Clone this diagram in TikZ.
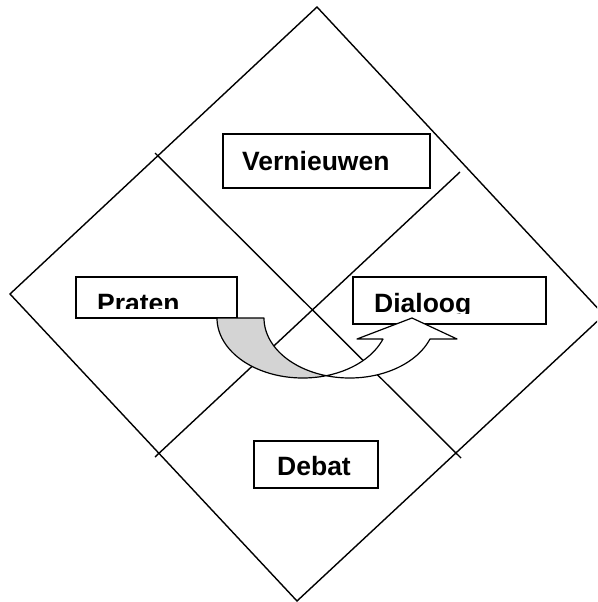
\documentclass[tikz,border=0pt]{standalone}
\usepackage{fontspec}
\setmainfont{Liberation Sans}
\definecolor{backgray}{RGB}{212,212,212}
\begin{document}
\begin{tikzpicture}[x=1pt,y=-1pt,
  edge/.style={line width=1.4pt},
  box/.style={draw, line width=1.2pt, fill=white, rectangle, inner sep=0pt},
  lbl/.style={inner sep=0pt, anchor=base west, font=\fontsize{26.5}{31}\selectfont\bfseries},
  ribbon/.style={draw, line width=1.2pt, line join=round}]
\useasboundingbox (0,0) rectangle (597,602);
\clip (0,0) rectangle (597,602);
% diamond
\coordinate (T) at (317,7);
\coordinate (R) at (604,315);
\coordinate (B) at (297,601);
\coordinate (L) at (10,294);
\draw[edge, line join=miter] (T) -- (R) -- (B) -- (L) -- cycle;
% dividing lines
\coordinate (p1) at (155,153);
\coordinate (p2) at (461,458);
\coordinate (q1) at (460,172);
\coordinate (q2) at (155,457);
\draw[edge] (p1) -- (p2);
\draw[edge] (q1) -- (q2);
% boxes
\node[box, minimum width=207pt, minimum height=54pt] (vbox) at (326.5,161) {};
\node[box, minimum width=161pt, minimum height=41pt] (pbox) at (156.5,297.5) {};
\node[box, minimum width=193pt, minimum height=47pt] (dbox) at (449.5,300.5) {};
\node[box, minimum width=124pt, minimum height=47pt] (bbox) at (316,464.5) {};
% texts
\node[lbl] (vtext) at (242,170.5) {Vernieuwen};
\node[lbl] (btext) at (277,475.5) {Debat};
\begin{scope}
  \clip (77,278) rectangle (236,308);
  \node[lbl] (ptext) at (97,312) {Praten};
\end{scope}
\begin{scope}
  \clip (354,278) rectangle (545,313);
  \node[lbl] (dtext) at (374,312) {Dialoog};
\end{scope}
% curved arrow: back part
\filldraw[ribbon, fill=backgray]
  plot[domain=180:74.08, variable=\t, samples=50, smooth] ({302.7+85.7*cos(\t)},{318+60*sin(\t)})
  -- plot[domain=105.92:180, variable=\t, samples=50, smooth] ({349.7+85.7*cos(\t)},{318+60*sin(\t)})
  -- cycle;
% curved arrow: front part with head
\filldraw[ribbon, fill=white]
  plot[domain=74.08:20.49, variable=\t, samples=50, smooth] ({302.7+85.7*cos(\t)},{318+60*sin(\t)})
  -- (357,339) -- (412,318) -- (457,339)
  -- plot[domain=20.49:105.92, variable=\t, samples=50, smooth] ({349.7+85.7*cos(\t)},{318+60*sin(\t)})
  -- cycle;
\end{tikzpicture}
\end{document}
